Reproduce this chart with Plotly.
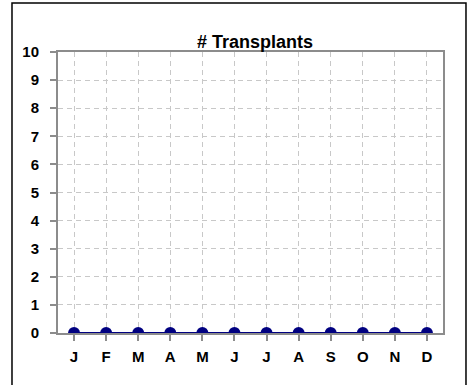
import plotly.graph_objects as go

# Monthly transplant counts
months = ["J", "F", "M", "A", "M", "J", "J", "A", "S", "O", "N", "D"]
transplants = [0, 0, 0, 0, 0, 0, 0, 0, 0, 0, 0, 0]
y_ticks = [0, 1, 2, 3, 4, 5, 6, 7, 8, 9, 10]

FONT = "Liberation Sans, Arial, sans-serif"
AXIS_GRAY = "#8c8c8c"
GRID_GRAY = "#c8c8c8"
NAVY = "#000080"

x_pos = list(range(len(months)))

fig = go.Figure()
fig.add_trace(go.Scatter(
    x=x_pos,
    y=transplants,
    mode="lines+markers",
    line=dict(color=NAVY, width=2),
    marker=dict(color=NAVY, size=12, symbol="circle"),
    cliponaxis=True,
    showlegend=False,
))

tick_font = dict(family=FONT, size=15, color="black", weight="bold")

fig.update_layout(
    width=471,
    height=385,
    margin=dict(l=58, r=28, t=52, b=52),
    paper_bgcolor="white",
    plot_bgcolor="white",
    font=dict(family=FONT, size=12, color="black"),
    xaxis=dict(
        range=[-0.5, len(months) - 0.5],
        tickmode="array",
        tickvals=x_pos,
        ticktext=months,
        tickfont=tick_font,
        ticks="outside",
        ticklen=6,
        tickwidth=2,
        tickcolor=AXIS_GRAY,
        ticklabelstandoff=3,
        showline=True,
        linecolor=AXIS_GRAY,
        linewidth=2,
        mirror=True,
        showgrid=True,
        gridcolor=GRID_GRAY,
        griddash="5px,4px",
        gridwidth=1,
        zeroline=False,
        fixedrange=True,
    ),
    yaxis=dict(
        range=[0, 10],
        tickmode="array",
        tickvals=y_ticks,
        ticktext=[str(v) for v in y_ticks],
        tickfont=tick_font,
        ticks="outside",
        ticklen=6,
        tickwidth=2,
        tickcolor=AXIS_GRAY,
        ticklabelstandoff=8,
        showline=True,
        linecolor=AXIS_GRAY,
        linewidth=2,
        mirror=True,
        showgrid=True,
        gridcolor=GRID_GRAY,
        griddash="5px,4px",
        gridwidth=1,
        zeroline=False,
        fixedrange=True,
    ),
    annotations=[dict(
        text="<b># Transplants</b>",
        xref="paper", yref="paper",
        x=0.512, y=1.0,
        xanchor="center", yanchor="bottom",
        yshift=-2,
        showarrow=False,
        font=dict(family=FONT, size=18, color="black"),
    )],
    shapes=[dict(
        type="rect",
        xref="paper", yref="paper",
        x0=-0.1195, x1=1.0597,
        y0=-0.19, y1=1.174,
        line=dict(color="black", width=1.5),
        fillcolor="rgba(0,0,0,0)",
        layer="below",
    )],
)

fig.write_html("out.html")
